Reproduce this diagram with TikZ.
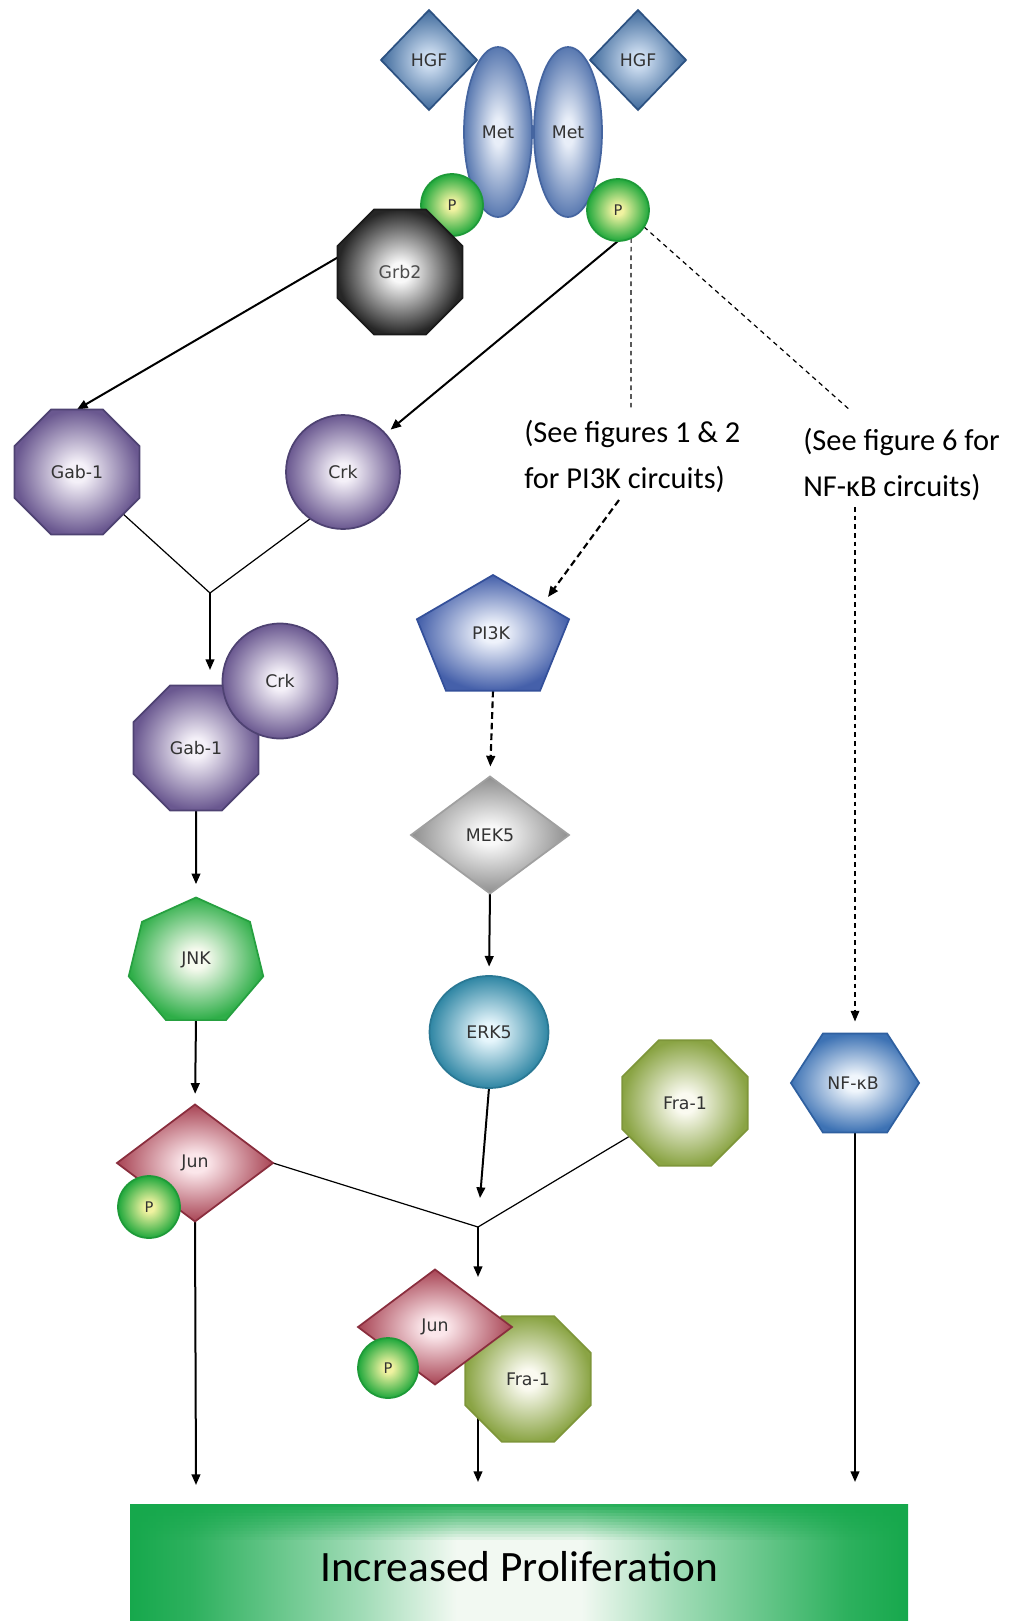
\documentclass[tikz,border=0pt]{standalone}
\usepackage{fontspec}
\newfontfamily\lblfont{DejaVu Sans}
\newfontfamily\calfont{Carlito}
\usetikzlibrary{shapes.geometric,arrows.meta,backgrounds}
\colorlet{myin}{white}
\colorlet{myout}{black}
\pgfdeclareradialshading[myin,myout]{soft}{\pgfpointorigin}{color(0bp)=(myin); color(4bp)=(myin); color(25bp)=(myout); color(50bp)=(myout)}
\definecolor{pgreen}{HTML}{16A84C}
\definecolor{pwhite}{HTML}{F2F9F2}
\colorlet{pg90}{pgreen!90!white}
\colorlet{pg40}{pgreen!40!white}
\pgfdeclareverticalshading{barshade}{100bp}{color(0bp)=(pgreen); color(25bp)=(pgreen); color(29bp)=(pg90); color(40bp)=(pg40); color(46bp)=(pwhite); color(54bp)=(pwhite); color(60bp)=(pg40); color(71bp)=(pg90); color(75bp)=(pgreen); color(100bp)=(pgreen)}
\definecolor{hgfin}{HTML}{C9DAEE}\definecolor{hgfout}{HTML}{3F6A9C}\definecolor{hgfdraw}{HTML}{2D5282}
\definecolor{metin}{HTML}{E8EEF8}\definecolor{metout}{HTML}{5878B0}\definecolor{metdraw}{HTML}{4565A0}
\definecolor{pin}{HTML}{F0F2A0}\definecolor{pout}{HTML}{20A83C}\definecolor{pdraw}{HTML}{1E9A38}
\definecolor{grbin}{HTML}{F8F8F8}\definecolor{grbout}{HTML}{262626}\definecolor{grbdraw}{HTML}{1A1A1A}
\definecolor{purin}{HTML}{F4F0F8}\definecolor{purout}{HTML}{6A5890}\definecolor{purdraw}{HTML}{4E4272}
\definecolor{jnkin}{HTML}{F6FAEE}\definecolor{jnkout}{HTML}{2EAE48}\definecolor{jnkdraw}{HTML}{26A040}
\definecolor{junin}{HTML}{FBE6EA}\definecolor{junout}{HTML}{A84454}\definecolor{jundraw}{HTML}{8A2E3E}
\definecolor{piin}{HTML}{EEF2FB}\definecolor{piout}{HTML}{4560AA}\definecolor{pidraw}{HTML}{34509A}
\definecolor{mekin}{HTML}{F8F8F8}\definecolor{mekout}{HTML}{8E8E8E}\definecolor{mekdraw}{HTML}{A0A0A0}
\definecolor{erkin}{HTML}{E6F6FC}\definecolor{erkout}{HTML}{2F86A4}\definecolor{erkdraw}{HTML}{2A7894}
\definecolor{frain}{HTML}{FAFAF0}\definecolor{fraout}{HTML}{8AA444}\definecolor{fradraw}{HTML}{7E963A}
\definecolor{nfin}{HTML}{F0F6FC}\definecolor{nfout}{HTML}{3D72B4}\definecolor{nfdraw}{HTML}{2F60A0}
\tikzset{
  sh/.style n args={3}{/utils/exec={\colorlet{myin}{#1}\colorlet{myout}{#2}}, shading=soft, shade, draw=#3, line width=1.3pt},
  mol/.style={inner sep=0pt, outer sep=0pt, font=\lblfont\fontsize{13}{15}\selectfont, text=black!80},
  lbl/.style={inner sep=0pt, font=\lblfont\fontsize{13}{15}\selectfont, text=black!80},
  plbl/.style={font=\lblfont\fontsize{11}{13}\selectfont},
  oct/.style={regular polygon, regular polygon sides=8, minimum size=101.5pt},
  note/.style={inner sep=0pt, align=left, font=\calfont\fontsize{22.8}{34.5}\selectfont},
  arr/.style={-{Triangle[length=8pt,width=6.5pt]}, line width=1.5pt},
  thinl/.style={line width=0.9pt},
  dashline/.style={dash pattern=on 3.5pt off 3pt, line width=0.9pt},
  dasharr/.style={dash pattern=on 5pt off 3pt, line width=1.6pt, -{Triangle[length=8pt,width=6.5pt]}}
}
\begin{document}
\begin{tikzpicture}[x=0.75pt,y=-0.75pt]
\useasboundingbox (0,0) rectangle (1009,1621);
\begin{pgfonlayer}{background}
\fill[white] (0,0) rectangle (1009,1621);
\end{pgfonlayer}
% receptor complex
\node[mol, diamond, minimum width=72pt, minimum height=75pt, sh={hgfin}{hgfout}{hgfdraw}] (hgf1) at (429,60) {HGF};
\node[mol, ellipse, minimum width=51pt, minimum height=127.5pt, sh={metin}{metout}{metdraw}] (met1) at (498,132) {Met};
\node[mol, ellipse, minimum width=51pt, minimum height=127.5pt, sh={metin}{metout}{metdraw}] (met2) at (568,132) {Met};
\node[mol, diamond, minimum width=72pt, minimum height=75pt, sh={hgfin}{hgfout}{hgfdraw}] (hgf2) at (638,60) {HGF};
\node[mol, plbl, circle, minimum size=46.5pt, sh={pin}{pout}{pdraw}] (p1) at (452,205) {P};
\node[mol, plbl, circle, minimum size=46.5pt, sh={pin}{pout}{pdraw}] (p2) at (618,210) {P};
\node[mol, oct, sh={grbin}{grbout}{grbdraw}, text=black!70] (grb2) at (400,272) {Grb2};
% left branch
\node[mol, oct, sh={purin}{purout}{purdraw}] (gab1) at (77,472) {Gab-1};
\node[mol, circle, minimum size=85.5pt, sh={purin}{purout}{purdraw}] (crk1) at (343,472) {Crk};
\node[mol, oct, sh={purin}{purout}{purdraw}] (gab2) at (196,748) {Gab-1};
\node[mol, circle, minimum size=86.25pt, sh={purin}{purout}{purdraw}] (crk2) at (280,681) {Crk};
\node[mol, regular polygon, regular polygon sides=7, minimum size=96.75pt, xscale=1.07, sh={jnkin}{jnkout}{jnkdraw}] (jnk) at (196,962) {};
\node[lbl] (jnkl) at (196,960) {JNK};
\node[mol, diamond, minimum width=117pt, minimum height=87.75pt, sh={junin}{junout}{jundraw}] (jun1) at (195,1163) {Jun};
\node[mol, plbl, circle, minimum size=46.5pt, sh={pin}{pout}{pdraw}] (pj1) at (149,1207) {P};
% middle branch
\node[mol, regular polygon, regular polygon sides=5, minimum size=96pt, xscale=1.25, sh={piin}{piout}{pidraw}] (pi3k) at (493,639) {};
\node[lbl] (pi3kl) at (491,633) {PI3K};
\node[mol, diamond, minimum width=118.5pt, minimum height=87.75pt, sh={mekin}{mekout}{mekdraw}] (mek5) at (490,835) {MEK5};
\node[mol, ellipse, minimum width=89.25pt, minimum height=84pt, sh={erkin}{erkout}{erkdraw}] (erk5) at (489,1032) {ERK5};
\node[mol, oct, minimum size=102pt, sh={frain}{fraout}{fradraw}] (fra1) at (685,1103) {Fra-1};
\node[mol, regular polygon, regular polygon sides=6, minimum size=85.8pt, xscale=1.12, sh={nfin}{nfout}{nfdraw}] (nfkb) at (855,1083) {};
\node[lbl] (nfkbl) at (853,1083) {NF-κB};
% complex
\node[mol, oct, minimum size=102pt, sh={frain}{fraout}{fradraw}] (fra2) at (528,1379) {Fra-1};
\node[mol, diamond, minimum width=115.5pt, minimum height=86.25pt, sh={junin}{junout}{jundraw}] (jun2) at (435,1327) {Jun};
\node[mol, plbl, circle, minimum size=45pt, sh={pin}{pout}{pdraw}] (pj2) at (388,1368) {P};
% notes
\node[note, anchor=north west] (t1) at (524,420) {(See figures 1 \& 2\\for PI3K circuits)};
\node[note, anchor=north west] (t2) at (803,428) {(See figure 6 for\\NF-κB circuits)};
% result bar
\path[shading=barshade, shading angle=90, shade] (130,1504) rectangle (908,1632);
\foreach \i in {0,...,11} {
  \fill[pgreen, fill opacity={0.9-\i*0.075}] (130,{1504+\i*3}) rectangle (908,{1507+\i*3});
}
\node[inner sep=0pt, font=\calfont\fontsize{32.5}{36}\selectfont] (prolif) at (519,1567) {Increased Proliferation};
% coordinates
\coordinate (j1) at (210,593);
\coordinate (j1e) at (210,670);
\coordinate (j2) at (478,1227);
\coordinate (j2a) at (480,1198);
\coordinate (j2b) at (478,1277);
\coordinate (f2a) at (478,1400);
\coordinate (o1) at (196,1485);
\coordinate (o2) at (478,1482);
\coordinate (o3) at (855,1482);
\coordinate (d1a) at (631,411);
\coordinate (d1b) at (619,500);
\coordinate (pin3) at (548,597);
\coordinate (d2a) at (851,411);
\coordinate (d2b) at (855,507);
\begin{pgfonlayer}{background}
\draw[arr] (grb2.167) -- (gab1.north);
\draw[arr, shorten >=5pt] (p2.south) -- (crk1.42);
\draw[thinl] (gab1) -- (j1) -- (crk1.235);
\draw[arr] (j1) -- (j1e);
\draw[arr, shorten >=10pt] (gab2.south) -- (jnk.north);
\draw[arr, shorten >=8pt] (jnk.south) -- (jun1.north);
\draw[arr] (jun1.south) -- (o1);
\draw[thinl] (jun1.east) -- (j2) -- (fra1);
\draw[arr] (erk5.south) -- (j2a);
\draw[arr] (j2) -- (j2b);
\draw[arr] (f2a) -- (o2);
\draw[arr] (nfkb.south) -- (o3);
\draw[dashline] (p2.-65) -- (d1a);
\draw[dashline] (p2.-33) -- (d2a);
\draw[dasharr] (d1b) -- (pin3);
\draw[dasharr, shorten >=7.5pt] (pi3k.south) -- (mek5.north);
\draw[arr, shorten >=7pt] (mek5.south) -- (erk5.north);
\draw[dashline, -{Triangle[length=8pt,width=6.5pt]}, shorten >=9pt] (d2b) -- (nfkb.north);
\end{pgfonlayer}
\end{tikzpicture}
\end{document}
